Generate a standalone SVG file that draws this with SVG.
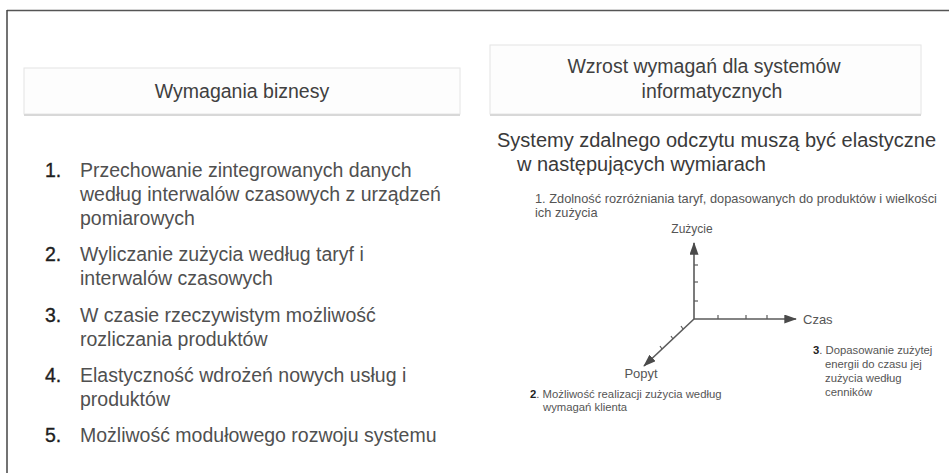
<svg xmlns="http://www.w3.org/2000/svg" width="949" height="473" viewBox="0 0 949 473">
<style>
  text { font-family: "Liberation Sans", Arial, sans-serif; }
  .hdr { fill: #fdfdfd; stroke: #e4e4e4; stroke-width: 1; }
  .hshadow { stroke: #d8d8d8; stroke-width: 2; }
  .htxt { font-size: 19.5px; fill: #404040; text-anchor: middle; }
  .num { font-size: 19.5px; fill: #1e1e1e; stroke: #1e1e1e; stroke-width: 0.35; }
  .item { font-size: 19.5px; fill: #505050; }
  .sub { font-size: 20px; fill: #3a3a3a; }
  .small { font-size: 11.3px; fill: #555; }
  .small1 { font-size: 12.8px; fill: #555; }
  .lbl { font-size: 12px; fill: #555; }
  .axis { stroke: #5a5a5a; stroke-width: 1.6; fill: none; }
  .tick { stroke: #5a5a5a; stroke-width: 1.2; }
  .b { font-weight: bold; fill: #222; }
</style>
<defs>
  <marker id="arr" viewBox="0 0 14 10" refX="13" refY="5" markerWidth="13" markerHeight="9" orient="auto" markerUnits="userSpaceOnUse">
    <path d="M0,0 L14,5 L0,10 z" fill="#4a4a4a"/>
  </marker>
</defs>
<rect x="0" y="0" width="949" height="473" fill="#ffffff"/>
<g id="frame">
  <line x1="7" y1="10.5" x2="949" y2="10.5" stroke="#555" stroke-width="1.5"/>
  <line x1="7" y1="10" x2="7" y2="473" stroke="#444" stroke-width="1.5"/>
</g>
<g id="header-left">
  <rect class="hdr" x="24" y="68" width="436" height="46"/>
  <line class="hshadow" x1="24" y1="115" x2="460" y2="115"/>
  <text class="htxt" x="242" y="98">Wymagania biznesy</text>
</g>
<g id="header-right">
  <rect class="hdr" x="490" y="45" width="431" height="69"/>
  <line class="hshadow" x1="490" y1="115" x2="921" y2="115"/>
  <text class="htxt" x="704" y="73">Wzrost wymagań dla systemów</text>
  <text class="htxt" x="712" y="98">informatycznych</text>
</g>
<g id="list">
  <text class="num" x="45" y="177">1.</text>
  <text class="item" x="80" y="177">Przechowanie zintegrowanych danych</text>
  <text class="item" x="80" y="201">według interwalów czasowych z urządzeń</text>
  <text class="item" x="80" y="225">pomiarowych</text>
  <text class="num" x="45" y="261">2.</text>
  <text class="item" x="80" y="261">Wyliczanie zużycia według taryf i</text>
  <text class="item" x="80" y="285">interwalów czasowych</text>
  <text class="num" x="45" y="322">3.</text>
  <text class="item" x="80" y="322">W czasie rzeczywistym możliwość</text>
  <text class="item" x="80" y="346">rozliczania produktów</text>
  <text class="num" x="45" y="382">4.</text>
  <text class="item" x="80" y="382">Elastyczność wdrożeń nowych usług i</text>
  <text class="item" x="80" y="406">produktów</text>
  <text class="num" x="45" y="442">5.</text>
  <text class="item" x="80" y="442">Możliwość modułowego rozwoju systemu</text>
</g>
<g id="subtitle">
  <text class="sub" x="497" y="147">Systemy zdalnego odczytu muszą być elastyczne</text>
  <text class="sub" x="517" y="171">w następujących wymiarach</text>
</g>
<g id="note-1">
  <text class="small1" x="535" y="203">1. Zdolność rozróżniania taryf, dopasowanych do produktów i wielkości</text>
  <text class="small1" x="535" y="217">ich zużycia</text>
</g>
<g id="connectors">
  <line class="axis" x1="694" y1="319" x2="694" y2="243" marker-end="url(#arr)"/>
  <line class="axis" x1="694" y1="319" x2="796" y2="319" marker-end="url(#arr)"/>
  <line class="axis" x1="694" y1="319" x2="644" y2="366" marker-end="url(#arr)"/>
  <line class="tick" x1="694" y1="265" x2="698" y2="265"/>
  <line class="tick" x1="694" y1="282" x2="698" y2="282"/>
  <line class="tick" x1="694" y1="301" x2="698" y2="301"/>
  <line class="tick" x1="718" y1="319" x2="718" y2="315"/>
  <line class="tick" x1="746" y1="319" x2="746" y2="315"/>
  <line class="tick" x1="767" y1="319" x2="767" y2="315"/>
  <line class="tick" x1="683" y1="329" x2="681" y2="326"/>
  <line class="tick" x1="673" y1="339" x2="671" y2="336"/>
  <line class="tick" x1="662" y1="349" x2="660" y2="346"/>
</g>
<g id="axis-zuzycie">
  <text class="lbl" x="692" y="233" text-anchor="middle">Zużycie</text>
</g>
<g id="axis-czas">
  <text class="lbl" x="803" y="324" style="font-size:13px">Czas</text>
</g>
<g id="axis-popyt">
  <text class="lbl" x="641" y="378" text-anchor="middle" style="font-size:13px">Popyt</text>
</g>
<g id="note-2">
  <text class="small" x="530" y="398"><tspan class="b">2</tspan>. Możliwość realizacji zużycia według</text>
  <text class="small" x="543" y="411">wymagań klienta</text>
</g>
<g id="note-3">
  <text class="small" x="813" y="354"><tspan class="b">3</tspan>. Dopasowanie zużytej</text>
  <text class="small" x="825" y="368">energii do czasu jej</text>
  <text class="small" x="825" y="382">zużycia według</text>
  <text class="small" x="825" y="396">cenników</text>
</g>
</svg>
